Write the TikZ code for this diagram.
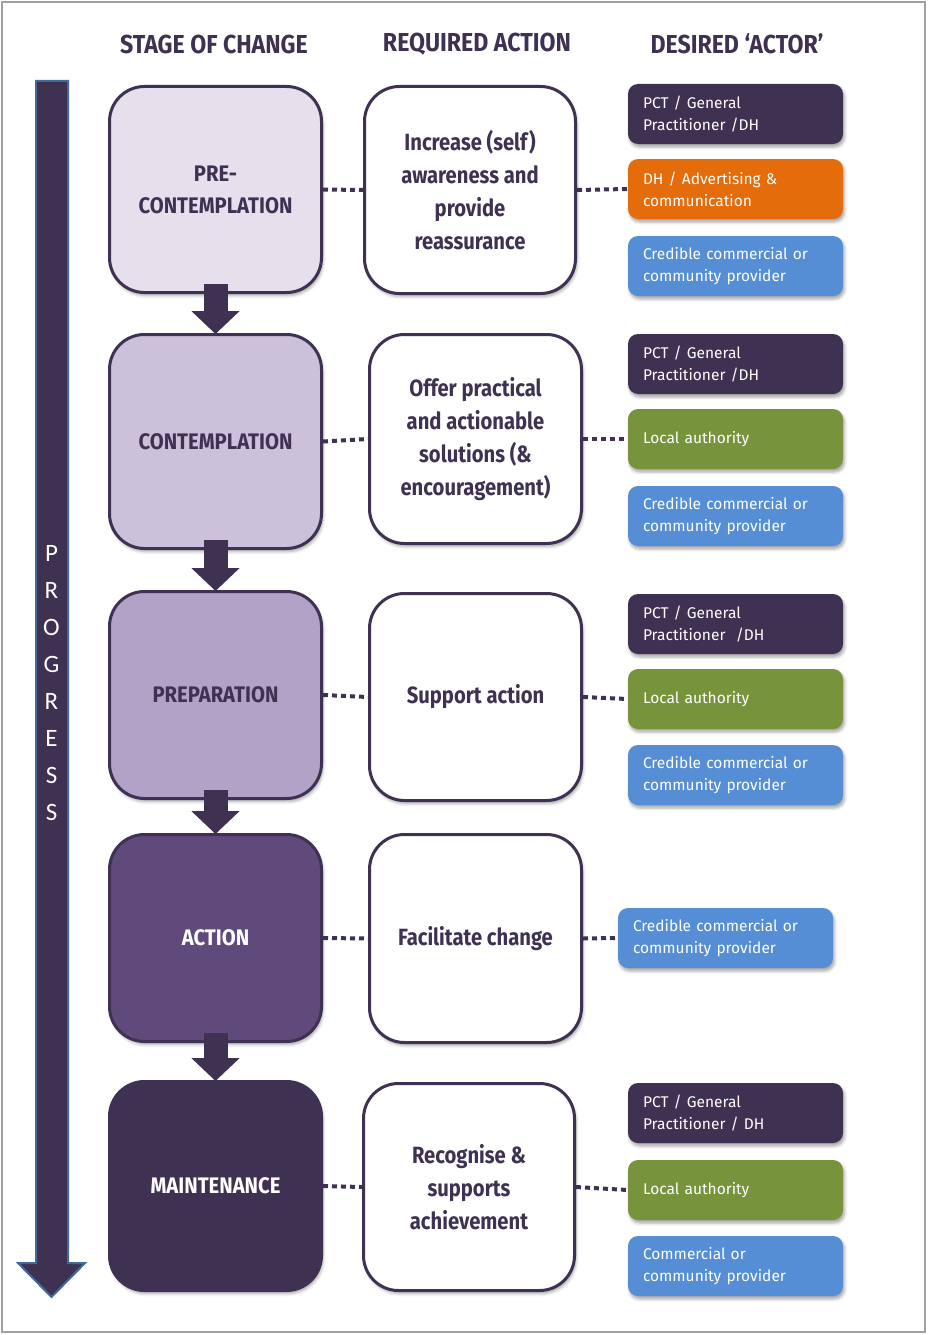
\documentclass[tikz,border=0pt]{standalone}
\usepackage{fontspec}
\setmainfont{Fira Sans}
\newfontfamily\headfont[FakeStretch=0.89]{Fira Sans}
\newfontfamily\stagefont[FakeStretch=0.9]{Fira Sans}
\newfontfamily\actfont[FakeStretch=0.86]{Fira Sans}
\newfontfamily\actorfont{Fira Sans}
\newfontfamily\progfont{Carlito}
\usetikzlibrary{calc,arrows.meta,shadows.blur}

\definecolor{dark}{HTML}{3F3151}
\definecolor{stageA}{HTML}{E5E0EC}
\definecolor{stageB}{HTML}{CCC1DA}
\definecolor{stageC}{HTML}{B3A2C7}
\definecolor{stageD}{HTML}{604A7B}
\definecolor{orangebox}{HTML}{E46C0A}
\definecolor{greenbox}{HTML}{77933C}
\definecolor{bluebox}{HTML}{558ED5}
\definecolor{edgeblue}{HTML}{41699A}
\definecolor{framegray}{HTML}{A0A0A0}

\tikzset{
  softshadow/.style={blur shadow={shadow xshift=1.5pt, shadow yshift=-3pt,
      shadow blur radius=3pt, shadow opacity=35}},
  head/.style={text=dark, font=\headfont\bfseries\fontsize{26}{28}\selectfont},
  stage/.style={draw=dark, line width=3pt, rounded corners=35pt,
      minimum width=212pt, align=center, softshadow,
      font=\stagefont\bfseries\fontsize{22.5}{32}\selectfont},
  actionbox/.style={draw=dark, fill=white, line width=3pt, rounded corners=35pt,
      align=center, text=dark, softshadow,
      font=\actfont\bfseries\fontsize{23.5}{33}\selectfont},
  actor/.style={rounded corners=10pt, minimum width=215pt, minimum height=60pt,
      text width=185pt, inner xsep=15pt, align=left, text=white, softshadow,
      font=\actorfont\fontsize{15.5}{22}\selectfont},
  flow/.style={draw=dark, line width=24pt,
      -{Triangle[width=47pt, length=23pt]}},
  dots/.style={draw=dark, line width=4pt, dash pattern=on 5pt off 4pt},
  progtext/.style={text=white, align=center,
      font=\progfont\fontsize{25}{37.1}\selectfont}
}

\begin{document}
\begin{tikzpicture}[x=1pt,y=-1pt]
\useasboundingbox (0,0) rectangle (927,1335);
\draw[framegray, line width=1.2pt] (2,2) rectangle (925,1332);

% column headings
\node[head] (h1) at (214,44) {STAGE OF CHANGE};
\node[head] (h2) at (477,44) {REQUIRED ACTION};
\node[head] (h3) at (737,44) {DESIRED ‘ACTOR’};

% progress arrow
\filldraw[fill=dark, draw=edgeblue, line width=2pt]
  (36,81) -- (68,81) -- (68,1263) -- (85,1263) -- (51.5,1297)
  -- (18,1263) -- (36,1263) -- cycle;
\node[progtext] (prog) at (51.5,683) {P\\R\\O\\G\\R\\E\\S\\S};

% stages of change
\node[stage, fill=stageA, text=dark, minimum height=206pt] (s1) at (215.5,189.5) {PRE-\\CONTEMPLATION};
\node[stage, fill=stageB, text=dark, minimum height=214pt] (s2) at (215.5,441.5) {CONTEMPLATION};
\node[stage, fill=stageC, text=dark, minimum height=207pt] (s3) at (215.5,695) {PREPARATION};
\node[stage, fill=stageD, text=white, minimum height=207pt] (s4) at (215.5,938) {ACTION};
\node[stage, fill=dark, text=white, minimum height=209pt] (s5) at (215.5,1186) {MAINTENANCE};

% required actions
\node[actionbox, minimum width=211pt, minimum height=207pt] (a1) at (470,190)
  {Increase (self)\\awareness and\\provide\\reassurance};
\node[actionbox, minimum width=212pt, minimum height=209pt] (a2) at (475.5,439)
  {Offer practical\\and actionable\\solutions (\&\\encouragement)};
\node[actionbox, minimum width=212pt, minimum height=207pt] (a3) at (475.5,697)
  {Support action};
\node[actionbox, minimum width=212pt, minimum height=208pt] (a4) at (475.5,938.5)
  {Facilitate change};
\node[actionbox, minimum width=211pt, minimum height=207pt] (a5) at (469,1187)
  {Recognise \&\\supports\\achievement};

% desired actors
\node[actor, fill=dark] (b11) at (735.5,114) {PCT / General\\Practitioner /DH};
\node[actor, fill=orangebox] (b12) at (735.5,189) {DH / Advertising \&\\communication};
\node[actor, fill=bluebox] (b13) at (735.5,266) {Credible commercial or\\community provider};

\node[actor, fill=dark] (b21) at (735.5,364) {PCT / General\\Practitioner /DH};
\node[actor, fill=greenbox] (b22) at (735.5,439) {Local authority};
\node[actor, fill=bluebox] (b23) at (735.5,516) {Credible commercial or\\community provider};

\node[actor, fill=dark] (b31) at (735.5,624) {PCT / General\\Practitioner \ /DH};
\node[actor, fill=greenbox] (b32) at (735.5,699) {Local authority};
\node[actor, fill=bluebox] (b33) at (735.5,775) {Credible commercial or\\community provider};

\node[actor, fill=bluebox] (b41) at (725.5,938) {Credible commercial or\\community provider};

\node[actor, fill=dark] (b51) at (735.5,1113) {PCT / General\\Practitioner / DH};
\node[actor, fill=greenbox] (b52) at (735.5,1190) {Local authority};
\node[actor, fill=bluebox] (b53) at (735.5,1266) {Commercial or\\community provider};

% flow between stages
\draw[flow] ($(s1.south)+(0,-10)$) -- ($(s2.north)+(0,1)$);
\draw[flow] ($(s2.south)+(0,-10)$) -- ($(s3.north)+(0,1)$);
\draw[flow] ($(s3.south)+(0,-10)$) -- ($(s4.north)+(0,1)$);
\draw[flow] ($(s4.south)+(0,-10)$) -- ($(s5.north)+(0,1)$);

% dotted links
\draw[dots] (s1.east) -- (a1.west);
\draw[dots] (s2.east) -- (a2.west);
\draw[dots] (s3.east) -- (a3.west);
\draw[dots] (s4.east) -- (a4.west);
\draw[dots] (s5.east) -- (a5.west);
\draw[dots] (a1.east) -- (b12.west);
\draw[dots] (a2.east) -- (b22.west);
\draw[dots] (a3.east) -- (b32.west);
\draw[dots] (a4.east) -- (b41.west);
\draw[dots] (a5.east) -- (b52.west);
\end{tikzpicture}
\end{document}
